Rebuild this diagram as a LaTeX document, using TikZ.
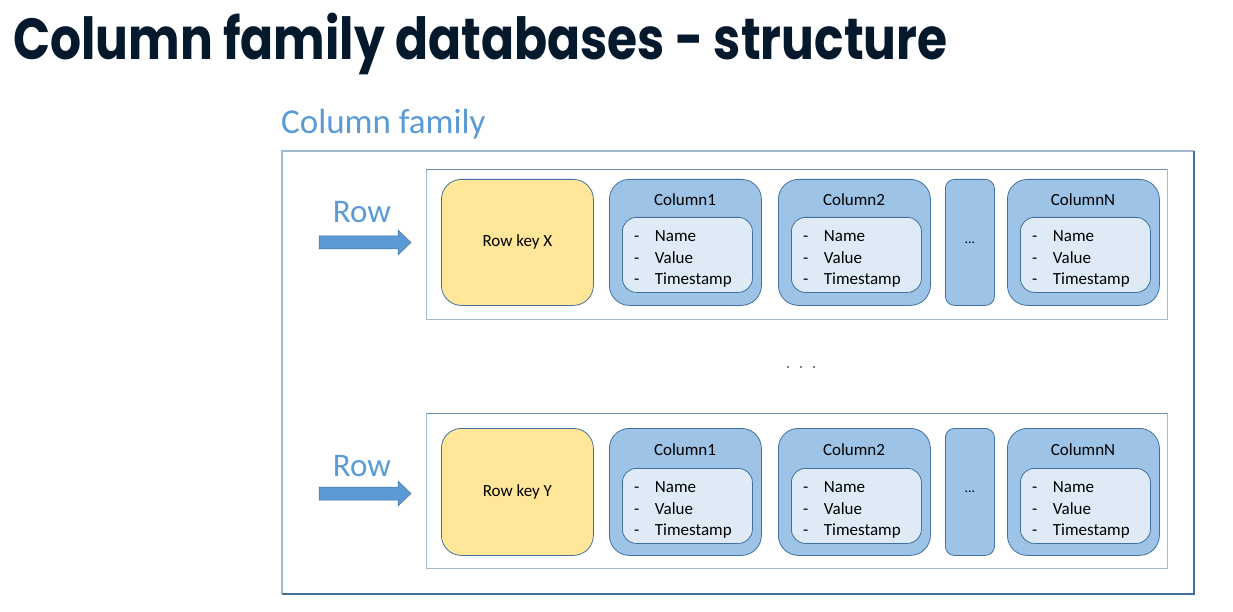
\documentclass[tikz,border=0pt]{standalone}
\usepackage{fontspec}
\setmainfont{Carlito}
\newfontfamily\titlefont[FakeStretch=0.84]{Poppins}
\usetikzlibrary{positioning}

\definecolor{titleblue}{HTML}{05192D}
\definecolor{cflabel}{HTML}{5B9BD5}
\definecolor{edgedark}{HTML}{41719C}
\definecolor{edgelight}{HTML}{A3B8D1}
\definecolor{keyfill}{HTML}{FFE699}
\definecolor{colfill}{HTML}{9DC3E6}
\definecolor{itemfill}{HTML}{DEEBF7}

\tikzset{
	keybox/.style={draw=edgedark, fill=keyfill, line width=0.8pt, rounded corners=20pt,
		anchor=north west, minimum width=152pt, font=\fontsize{17}{20}\selectfont},
	colbox/.style={draw=edgedark, fill=colfill, line width=0.8pt, rounded corners=20pt,
		anchor=north west, minimum width=152pt},
	dotsbox/.style={draw=edgedark, fill=colfill, line width=0.8pt, rounded corners=9pt,
		anchor=north west, minimum width=49pt, font=\fontsize{14}{16}\selectfont},
	itembox/.style={draw=edgedark, fill=itemfill, line width=0.8pt, rounded corners=14pt,
		anchor=north west, minimum width=130pt, minimum height=75pt},
	collabel/.style={font=\fontsize{17}{20}\selectfont, inner sep=0pt},
	items/.style={font=\fontsize{17}{21.5}\selectfont, inner sep=0pt, anchor=west, align=left},
	rowlabel/.style={font=\fontsize{33}{36}\selectfont, text=cflabel, inner sep=0pt, anchor=base},
	rowarrow/.style={fill=cflabel, draw=edgedark, line width=0.5pt},
}

\newcommand{\colitems}{%
	\begin{tabular}{@{}l@{\hspace{15.5pt}}l@{}}
		- & Name\\ - & Value\\ - & Timestamp
	\end{tabular}}

\begin{document}
\begin{tikzpicture}[x=1pt, y=-1pt]
	\useasboundingbox (0,0) rectangle (1233,612);

	% title and family label
	\node (title) [anchor=base west, inner sep=0pt, text=titleblue,
		font=\titlefont\bfseries\fontsize{58}{60}\selectfont] at (13,60) {Column family databases - structure};
	\node (family) [anchor=base west, inner sep=0pt, text=cflabel,
		font=\fontsize{35}{38}\selectfont] at (281,134) {Column family};

	% column family box
	\draw [edgelight, line width=1.2pt] (282,594) -- (282,151) -- (1194,151);
	\draw [edgedark, line width=1.2pt] (1194,151) -- (1194,594) -- (282,594);

	% the two rows
	\foreach \r/\top/\h/\boxtop/\boxbot/\hd/\it/\lab/\arr/\key in
		{1/179/126/170/319/21/38/44/63.5/X, 2/428/127/413/568/22/40/48/65.5/Y} {
		\draw [edgelight, line width=1pt] (426,\boxtop) rectangle (1167,\boxbot);
		\draw [edgedark!80, line width=1pt] (426,\boxtop) -- (1167,\boxtop);

		\node (row\r) [rowlabel] at (362,\top+\lab) {Row};
		\draw [rowarrow] (319,\top+\arr-6.5) -- (398,\top+\arr-6.5) -- (398,\top+\arr-12.5)
			-- (411,\top+\arr) -- (398,\top+\arr+12.5) -- (398,\top+\arr+6.5)
			-- (319,\top+\arr+6.5) -- cycle;

		\node (key\r) [keybox, minimum height=\h pt] at (441,\top) {Row key \key};

		\foreach \c/\x/\name in {1/609/Column1, 2/778/Column2, 3/1007/ColumnN} {
			\node (col\r\c) [colbox, minimum height=\h pt] at (\x,\top) {};
			\node (col\r\c label) [collabel] at (\x+76,\top+\hd) {\name};
			\node (col\r\c inner) [itembox] at (\x+13,\top+\it) {};
			\node (col\r\c items) [items] at (\x+25,\top+\it+42) {\colitems};
		}
		\node (more\r) [dotsbox, minimum height=\h pt] at (945,\top) {};
		\node [font=\fontsize{14}{16}\selectfont, inner sep=0pt] at (more\r.center) {...};
	}

	% rows left out
	\foreach \x in {788,801,814}
		\fill (\x,367) circle (0.9);
\end{tikzpicture}
\end{document}
